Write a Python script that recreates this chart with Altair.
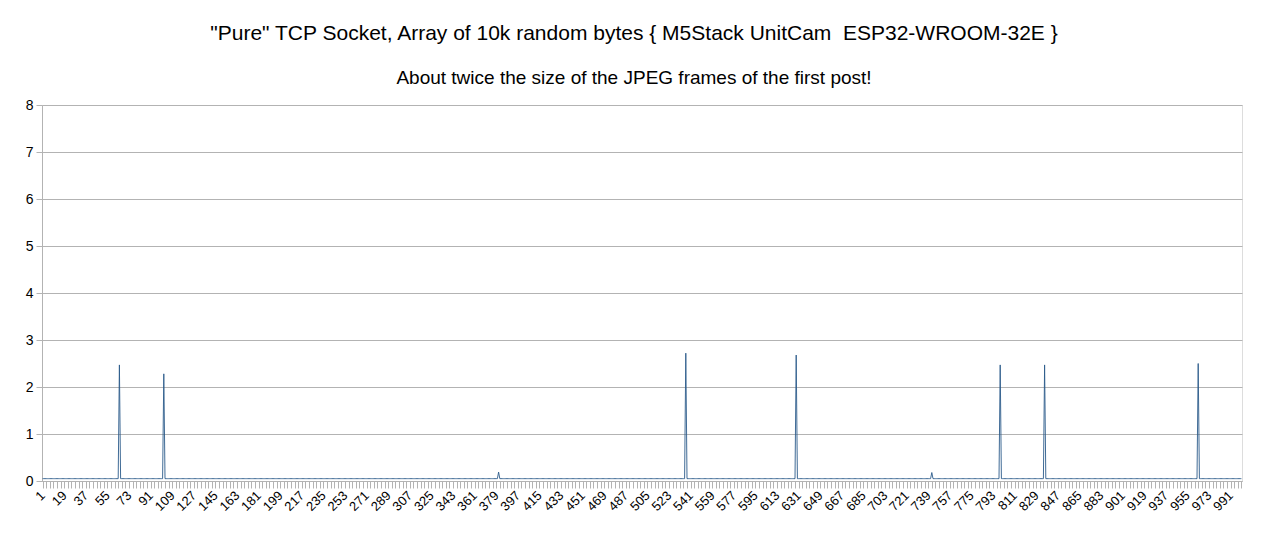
import altair as alt
import pandas as pd

# ---- data ----
N_POINTS = 1000                      # category indices 1..1000
BASELINE = 0.05                      # level of the flat part of the series
SPIKE_INDEX = [65, 102, 381, 537, 629, 742, 799, 836, 964]
SPIKE_VALUE = [2.47, 2.28, 0.19, 2.72, 2.68, 0.18, 2.47, 2.47, 2.50]

TITLE = "\"Pure\" TCP Socket, Array of 10k random bytes { M5Stack UnitCam \u00a0ESP32-WROOM-32E }"
SUBTITLE = "About twice the size of the JPEG frames of the first post!"
Y_TICKS = [0, 1, 2, 3, 4, 5, 6, 7, 8]
X_TICKS = list(range(1, N_POINTS + 1, 3))     # minor tick every 3 categories
LABEL_STEP = 18                               # label every 18 categories

spikes = dict(zip(SPIKE_INDEX, SPIKE_VALUE))
df = pd.DataFrame({
    "idx": list(range(1, N_POINTS + 1)),
    "val": [spikes.get(i, BASELINE) for i in range(1, N_POINTS + 1)],
})

FONT = "Liberation Sans"
GRID = "#b3b3b3"

chart = alt.Chart(df).mark_line(color="#2a5a8a", strokeWidth=0.9).encode(
    x=alt.X("idx:Q",
            scale=alt.Scale(domain=[0.5, N_POINTS + 0.5], nice=False, zero=False),
            axis=alt.Axis(values=X_TICKS, title=None, grid=False,
                          labelExpr=f"(datum.value - 1) % {LABEL_STEP} === 0 ? datum.label : ''",
                          labelAngle=-45, labelAlign="right", labelBaseline="middle",
                          labelOverlap=False, labelFlush=False, format="d",
                          tickSize=7, tickColor=GRID, domainColor=GRID,
                          labelFont=FONT, labelFontSize=13, labelColor="#000000",
                          labelPadding=5)),
    y=alt.Y("val:Q",
            scale=alt.Scale(domain=[0, 8], nice=False),
            axis=alt.Axis(values=Y_TICKS, title=None, grid=True, gridColor=GRID,
                          tickSize=6, tickColor=GRID, domainColor=GRID,
                          labelFont=FONT, labelFontSize=14, labelColor="#000000",
                          labelPadding=3)),
).properties(
    width=1200,
    height=376,
    title=alt.Title(TITLE, subtitle=SUBTITLE, font=FONT, fontSize=21,
                    fontWeight="normal", color="#000000",
                    subtitleFont=FONT, subtitleFontSize=19, subtitleColor="#000000",
                    subtitlePadding=25, offset=10, anchor="middle", dx=-8),
    autosize=alt.AutoSizeParams(type="none"),
    padding={"left": 34, "top": 97, "right": 17, "bottom": 45},
).configure_view(stroke=GRID, strokeWidth=1).configure(background="#ffffff")

chart.save("out.html", embed_options={"renderer": "svg", "actions": False})
